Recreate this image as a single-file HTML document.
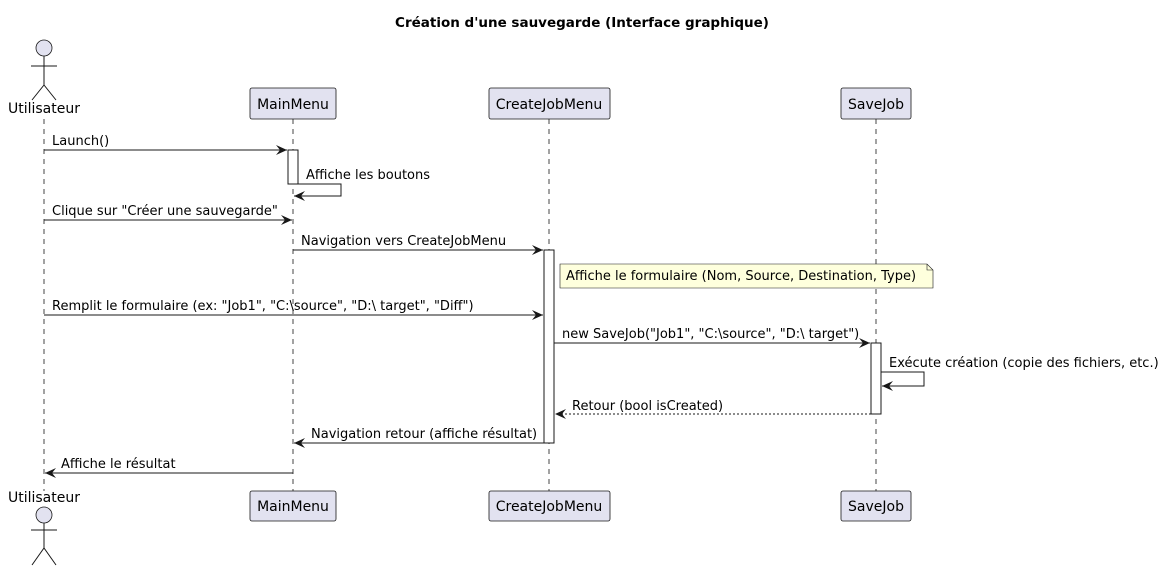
<!DOCTYPE html>
<html><head><meta charset="utf-8"><style>
body{margin:0;background:#fff;}
svg text{font-family:"DejaVu Sans","Liberation Sans",sans-serif;font-size:13px;fill:#000;}
svg text.p{font-size:14px;}
</style></head><body>
<svg width="1165" height="570" viewBox="0 0 1165 570" xmlns="http://www.w3.org/2000/svg">
<defs>
<marker id="a" markerWidth="12" markerHeight="10" refX="11" refY="5" orient="auto" markerUnits="userSpaceOnUse">
<path d="M0,0 L11,5 L0,10 L4,5 Z" fill="#181818"/></marker>
</defs>
<text x="582" y="27" text-anchor="middle" style="font-weight:bold;font-size:13.5px">Création d'une sauvegarde (Interface graphique)</text>
<g stroke="#181818" stroke-width="0.8" stroke-dasharray="5,5">
<line x1="44" y1="119" x2="44" y2="491"/>
<line x1="293" y1="119" x2="293" y2="491"/>
<line x1="549" y1="119" x2="549" y2="491"/>
<line x1="876" y1="119" x2="876" y2="491"/>
</g>
<g fill="#E2E2F0" stroke="#181818" stroke-width="0.8">
<circle cx="44" cy="48" r="8"/>
<circle cx="44" cy="515" r="8"/>
<rect x="250" y="88" width="86" height="31" rx="2"/>
<rect x="489" y="88" width="121" height="31" rx="2"/>
<rect x="841" y="88" width="70" height="31" rx="2"/>
<rect x="250" y="491" width="86" height="30" rx="2"/>
<rect x="489" y="491" width="121" height="30" rx="2"/>
<rect x="841" y="491" width="70" height="30" rx="2"/>
</g>
<g stroke="#181818" stroke-width="1" fill="none">
<path d="M44,56 V85 M31,66 H57 M32,100 L44,85 L56,100"/>
<path d="M44,523 V548 M31,530 H57 M32,565 L44,548 L56,565"/>
</g>
<text class="p" x="44" y="113" text-anchor="middle">Utilisateur</text>
<text class="p" x="44" y="502" text-anchor="middle">Utilisateur</text>
<text class="p" x="293" y="109" text-anchor="middle">MainMenu</text>
<text class="p" x="549" y="109" text-anchor="middle">CreateJobMenu</text>
<text class="p" x="876" y="109" text-anchor="middle">SaveJob</text>
<text class="p" x="293" y="511" text-anchor="middle">MainMenu</text>
<text class="p" x="549" y="511" text-anchor="middle">CreateJobMenu</text>
<text class="p" x="876" y="511" text-anchor="middle">SaveJob</text>
<g fill="#fff" stroke="#181818" stroke-width="1">
<rect x="288" y="150" width="10" height="34"/>
<rect x="544" y="250" width="10" height="193"/>
<rect x="871" y="343" width="10" height="71"/>
</g>
<path d="M560,264 H927 L933,270 V288 H560 Z" fill="#FEFFDD" stroke="#181818" stroke-width="0.6"/>
<path d="M927,264 V270 H933" fill="none" stroke="#181818" stroke-width="0.6"/>
<text x="566" y="280">Affiche le formulaire (Nom, Source, Destination, Type)</text>
<g stroke="#181818" stroke-width="1" fill="none" marker-end="url(#a)">
<line x1="44" y1="150" x2="287" y2="150"/>
<path d="M298,184 H341 V196 H294"/>
<line x1="44" y1="220" x2="292" y2="220"/>
<line x1="293" y1="250" x2="543" y2="250"/>
<line x1="44" y1="315" x2="543" y2="315"/>
<line x1="554" y1="343" x2="870" y2="343"/>
<path d="M881,372 H924 V386 H882"/>
<line x1="871" y1="414" x2="555" y2="414" stroke-dasharray="2,2"/>
<line x1="544" y1="443" x2="294" y2="443"/>
<line x1="293" y1="473" x2="45" y2="473"/>
</g>
<text x="52" y="145">Launch()</text>
<text x="306" y="179">Affiche les boutons</text>
<text x="52" y="215">Clique sur "Créer une sauvegarde"</text>
<text x="301" y="245">Navigation vers CreateJobMenu</text>
<text x="52" y="310">Remplit le formulaire (ex: "Job1", "C:\source", "D:\ target", "Diff")</text>
<text x="562" y="338">new SaveJob("Job1", "C:\source", "D:\ target")</text>
<text x="889" y="367">Exécute création (copie des fichiers, etc.)</text>
<text x="572" y="410">Retour (bool isCreated)</text>
<text x="311" y="438">Navigation retour (affiche résultat)</text>
<text x="61" y="468">Affiche le résultat</text>
</svg>
</body></html>
